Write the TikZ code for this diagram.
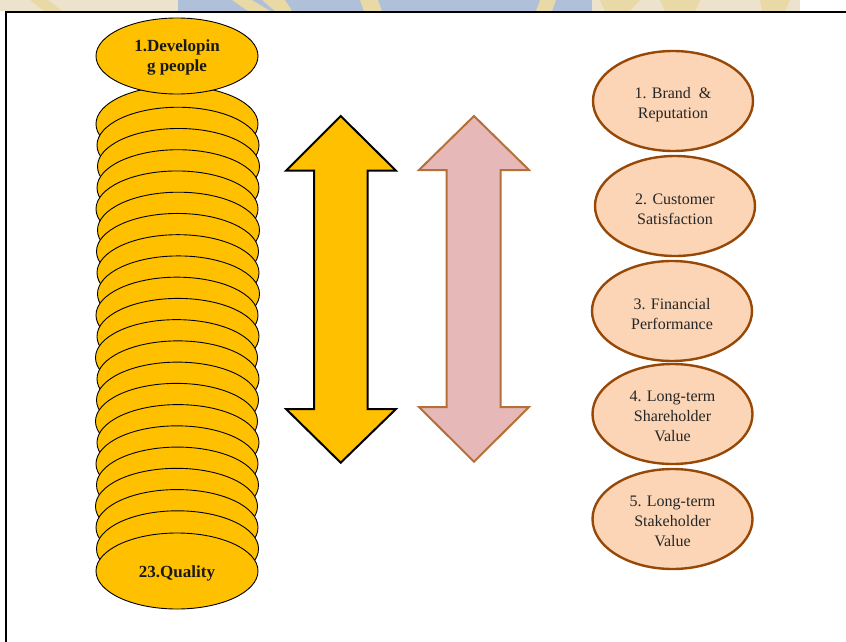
\documentclass[tikz,border=0pt]{standalone}
\usepackage{fontspec}
\setmainfont{Liberation Serif}
\usetikzlibrary{shapes.geometric}
\definecolor{gold}{HTML}{FFC000}
\definecolor{peach}{HTML}{FBD5B5}
\definecolor{peachline}{HTML}{984806}
\definecolor{pinkfill}{HTML}{E6B8B7}
\definecolor{pinkline}{HTML}{B5703A}
\definecolor{wmblue}{HTML}{AFC0D8}
\definecolor{wmgold}{HTML}{E9D9A6}
\definecolor{wmtan}{HTML}{EDE3CC}
\begin{document}
\begin{tikzpicture}[x=1pt,y=-1pt,
  coin/.style={ellipse, draw=black, line width=0.9pt, fill=gold, minimum width=162pt, minimum height=76pt, inner sep=0pt},
  cointext/.style={align=center, inner sep=0pt, font=\fontsize{17}{20}\selectfont\bfseries, text=black!90},
  outcome/.style={ellipse, draw=peachline, line width=2.4pt, fill=peach, minimum width=160pt, minimum height=100pt, inner sep=0pt},
  outtext/.style={align=center, inner sep=0pt, font=\fontsize{16}{20}\selectfont, text=black!85},
  bigarrow/.style={line width=2pt, line join=miter}]
\useasboundingbox (0,0) rectangle (846,642);
% faint watermark band at the top
\fill[wmtan] (0,0) rectangle (846,11);
\fill[white] (800,0) rectangle (846,11);
\fill[wmblue] (178,0) rectangle (592,11);
\fill[wmgold] (30,0) -- (48,0) -- (62,11) -- (44,11) -- cycle;
\fill[wmgold] (232,0) -- (252,0) -- (270,11) -- (248,11) -- cycle;
\fill[wmgold] (262,0) -- (285,0) -- (292,11) -- (275,11) -- cycle;
\fill[wmgold] (360,0) -- (378,0) -- (382,11) -- (364,11) -- cycle;
\fill[wmgold] (540,0) -- (556,0) -- (552,11) -- (536,11) -- cycle;
\fill[wmgold] (600,0) -- (640,0) -- (630,11) -- (605,11) -- cycle;
\fill[wmgold] (660,0) -- (700,0) -- (695,11) -- (665,11) -- cycle;
\fill[wmgold] (760,0) -- (790,0) -- (785,11) -- (762,11) -- cycle;
% frame
\draw[line width=2.2pt] (6,643) -- (6,12) -- (847,12);
% stack of coins 2..22
\foreach \k/\dx in {2/0,3/1,4/1.5,5/1,6/0,7/1.5,8/0.5,9/1,10/1.5,11/0,12/1,13/-0.5,14/1,15/0.5,16/-0.5,17/1,18/0,19/0.5,20/-0.5,21/0,22/0.5}{
  \node[coin] (c\k) at ({177+\dx},{124+21.24*(\k-2)}) {};
}
\node[coin] (c23) at (177,571) {};
\node[cointext] (t23) at ([yshift=-2pt]c23.center) {23.Quality};
\node[coin] (c1) at (177,56) {};
\node[cointext] (t1) at ([yshift=-1.5pt]c1.center) {1.Developin\\g people};
% double arrows
\draw[bigarrow, fill=gold, draw=black] (340.7,116) -- (396,170.7) -- (367.7,170.7) -- (367.7,409) -- (396,409) -- (340.7,462.7) -- (286,409) -- (314,409) -- (314,170.7) -- (286,170.7) -- cycle;
\draw[bigarrow, fill=pinkfill, draw=pinkline] (474,116) -- (529,170) -- (500.7,170) -- (500.7,407) -- (529,407) -- (474,461.7) -- (419,407) -- (446.7,407) -- (446.7,170) -- (419,170) -- cycle;
% outcomes
\node[outcome] (o1) at (673,101) {};
\node[outcome] (o2) at (675,206) {};
\node[outcome] (o3) at (672,311) {};
\node[outcome] (o4) at (672.5,414) {};
\node[outcome] (o5) at (672.5,519) {};
\node[outtext] (l1) at ([yshift=-3.5pt]o1.center) {1. Brand\ \ \&\\Reputation};
\node[outtext] (l2) at ([yshift=-3.5pt]o2.center) {2. Customer\\Satisfaction};
\node[outtext] (l3) at ([yshift=-3.5pt]o3.center) {3. Financial\\Performance};
\node[outtext] (l4) at ([yshift=-2pt]o4.center) {4. Long-term\\Shareholder\\Value};
\node[outtext] (l5) at ([yshift=-2pt]o5.center) {5. Long-term\\Stakeholder\\Value};
\end{tikzpicture}
\end{document}
